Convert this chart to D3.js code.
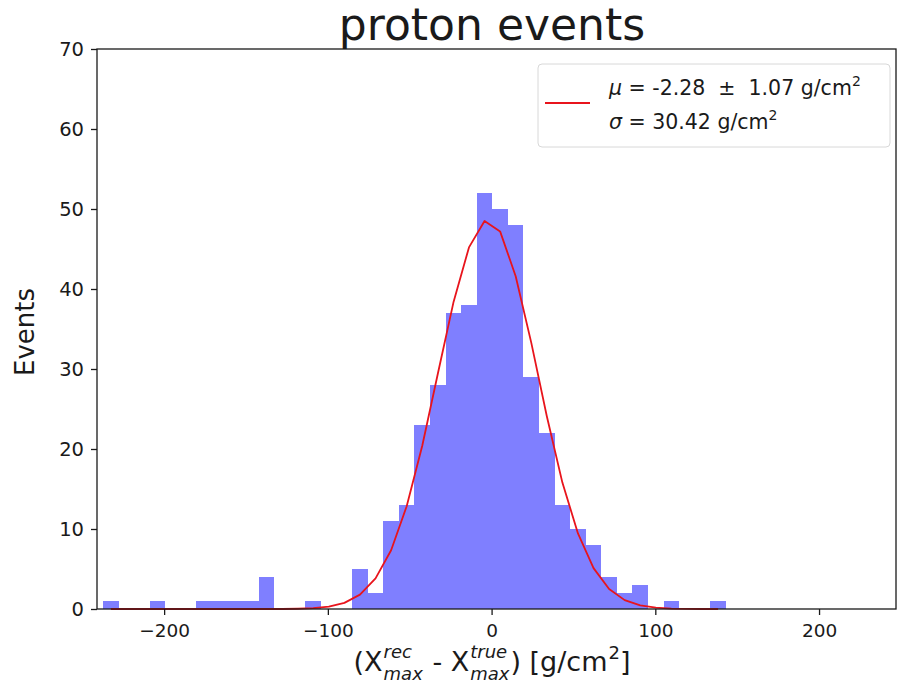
<!DOCTYPE html>
<html>
<head>
<meta charset="utf-8">
<script src="https://cdn.jsdelivr.net/npm/d3@7"></script>
<style>
  html, body { margin: 0; padding: 0; background: #fff; }
  svg { display: block; font-family: "DejaVu Sans", sans-serif; }
  text { white-space: pre; }
</style>
</head>
<body>
<svg id="chart" width="897" height="687"></svg>
<script>
// ---------- data ----------
const title = "proton events";
const yLabel = "Events";
const binLo = -237.3;       // left edge of first bin (g/cm^2)
const binWidth = 9.51;      // bin width (g/cm^2)
const counts = [1,0,0,1,0,0,1,1,1,1,
                4,0,0,1,0,0,5,2,11,13,
                23,28,37,38,52,50,48,29,22,13,
                10,8,4,2,3,0,1,0,0,1];
// fitted gaussian read at bin centres
const fitValues = [0,0,0,0,0,0,0,0,0,0,
                   0,0,0.03,0.1,0.3,0.77,1.8,3.82,7.35,12.85,
                   20.4,29.4,38.3,45.2,48.5,47.2,41.6,33.3,24.1,15.8,
                   9.44,5.11,2.51,1.11,0.45,0.17,0.05,0.01,0,0];
const xTicks = [-200, -100, 0, 100, 200];
const yTicks = [0, 10, 20, 30, 40, 50, 60, 70];
const xDomain = [-241, 247];
const yDomain = [0, 70];
const legendLines = [
  [{t:"\u03bc", it:true}, {t:" = -2.28  \u00b1  1.07 g/cm"}, {t:"2", sup:true}],
  [{t:"\u03c3", it:true}, {t:" = 30.42 g/cm"}, {t:"2", sup:true}]
];

// ---------- layout ----------
const svg = d3.select("#chart");
const L = 97, R = 896, T = 49, B = 609;
const x = d3.scaleLinear().domain(xDomain).range([L, R]);
const y = d3.scaleLinear().domain(yDomain).range([B, T]);
const ink = "#1a1a1a";

const bins = counts.map((c, i) => ({x0: binLo + i * binWidth, x1: binLo + (i + 1) * binWidth, c, f: fitValues[i]}));

// bars
svg.append("g").attr("shape-rendering", "crispEdges")
  .selectAll("rect").data(bins.filter(d => d.c > 0)).join("rect")
  .attr("x", d => Math.round(x(d.x0)))
  .attr("width", d => Math.round(x(d.x1)) - Math.round(x(d.x0)))
  .attr("y", d => y(d.c))
  .attr("height", d => y(0) - y(d.c))
  .attr("fill", "blue").attr("fill-opacity", 0.5);

// fit curve
const line = d3.line().x(d => x((d.x0 + d.x1) / 2)).y(d => y(d.f));
svg.append("path").datum(bins).attr("d", line)
  .attr("fill", "none").attr("stroke", "#e8141c").attr("stroke-width", 1.8)
  .attr("stroke-linejoin", "round");

// axes
const fmt = v => (v < 0 ? "\u2212" + Math.abs(v) : String(v));
const xAxis = svg.append("g").attr("transform", `translate(0,${B})`)
  .call(d3.axisBottom(x).tickValues(xTicks).tickFormat(fmt).tickSize(6).tickPadding(4));
const yAxis = svg.append("g").attr("transform", `translate(${L},0)`)
  .call(d3.axisLeft(y).tickValues(yTicks).tickFormat(fmt).tickSize(6).tickPadding(7));
[xAxis, yAxis].forEach(g => {
  g.select(".domain").remove();
  g.selectAll("line").attr("stroke", ink).attr("stroke-width", 1.3);
  g.selectAll("text").attr("fill", ink)
    .style("font-family", "DejaVu Sans, sans-serif");
});
xAxis.selectAll("text").style("font-size", "18.5px").attr("dy", "0.95em");
yAxis.selectAll("text").style("font-size", "19.5px");
// spines
svg.append("rect").attr("x", L).attr("y", T).attr("width", R - L).attr("height", B - T)
  .attr("fill", "none").attr("stroke", ink).attr("stroke-width", 1.3);

// title
svg.append("text").attr("x", 492).attr("y", 40).attr("text-anchor", "middle")
  .style("font-size", "44px").attr("fill", ink).text(title);

// y label
svg.append("text").attr("transform", `translate(34,332) rotate(-90)`)
  .attr("text-anchor", "middle").style("font-size", "26px").attr("fill", ink).text(yLabel);

// x label with stacked sup/sub
(function () {
  const g = svg.append("g");
  const base = 671, fs = 27, sfs = 18;
  let cx = 0;
  function plain(t) {
    const el = g.append("text").attr("x", cx).attr("y", base).style("font-size", fs + "px").attr("fill", ink).text(t);
    cx += el.node().getComputedTextLength();
  }
  function stack(sup, sub) {
    const a = g.append("text").attr("x", cx + 1).attr("y", base - 13).style("font-size", sfs + "px")
      .style("font-style", "italic").attr("fill", ink).text(sup);
    const b = g.append("text").attr("x", cx + 1).attr("y", base + 9).style("font-size", sfs + "px")
      .style("font-style", "italic").attr("fill", ink).text(sub);
    cx += Math.max(a.node().getComputedTextLength(), b.node().getComputedTextLength()) + 2;
  }
  function sup(t) {
    const el = g.append("text").attr("x", cx + 1).attr("y", base - 12).style("font-size", sfs + "px").attr("fill", ink).text(t);
    cx += el.node().getComputedTextLength() + 1;
  }
  plain("(X"); stack("rec", "max"); plain(" - X"); stack("true", "max"); plain(") [g/cm"); sup("2"); plain("]");
  g.attr("transform", `translate(${492 - cx / 2},0)`);
})();

// legend
(function () {
  const g = svg.append("g");
  g.append("rect").attr("x", 538).attr("y", 64).attr("width", 352).attr("height", 83)
    .attr("rx", 4).attr("fill", "#fff").attr("fill-opacity", 0.85)
    .attr("stroke", "#d8d8d8").attr("stroke-width", 1);
  g.append("line").attr("x1", 545).attr("x2", 590).attr("y1", 103).attr("y2", 103)
    .attr("stroke", "#e8141c").attr("stroke-width", 1.8);
  legendLines.forEach((parts, i) => {
    const t = g.append("text").attr("x", 609).attr("y", 95 + i * 34).style("font-size", "20.5px").attr("fill", ink);
    parts.forEach(p => {
      const ts = t.append("tspan").text(p.t);
      if (p.it) ts.style("font-style", "italic");
      if (p.sup) { ts.style("font-size", "14px").attr("dy", -9); }
    });
  });
})();
</script>
</body>
</html>
